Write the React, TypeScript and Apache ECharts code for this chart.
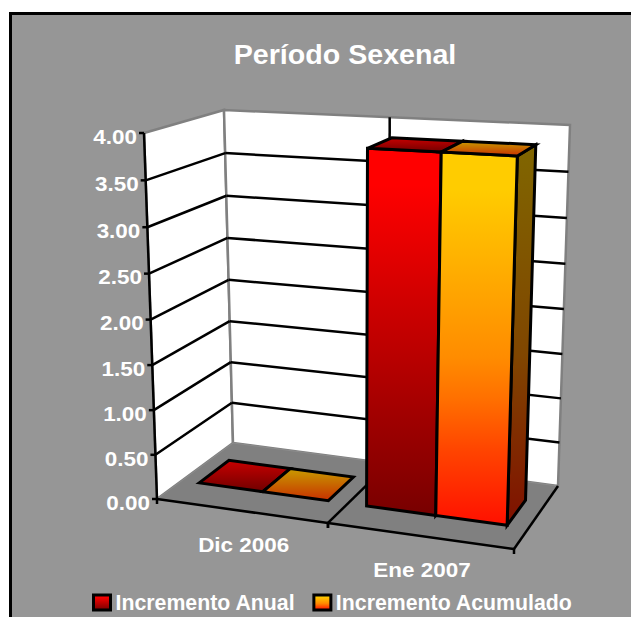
import React, { useEffect, useRef } from "react";
import * as echarts from "echarts";

const titleText = "Período Sexenal";
const categories = ["Dic 2006", "Ene 2007"];
const tickValues = [0, 0.5, 1, 1.5, 2, 2.5, 3, 3.5, 4];
const anualValues = [0, 3.86];
const acumuladoValues = [0, 3.86];

const FONT = '"Liberation Sans", Arial, sans-serif';
const CORNERS = {
  flb: [157, 499], frb: [514, 549], blb: [233, 443], brb: [558, 486],
  flt: [144, 133], frt: [526, 152], blt: [224, 110], brt: [570, 125],
};
const DEPTH_FRONT = 0.33;
const DEPTH_BACK = 0.73;

const warp = (x: number, k: number) => (x <= 0 ? 0 : x / (x + k * (1 - x)));
const mix = (a: number[], b: number[], t: number) => [a[0] + (b[0] - a[0]) * t, a[1] + (b[1] - a[1]) * t];

function project(u: number, v: number, d: number) {
  const uu = warp(u, 1.088);
  const vv = warp(v, 1.04);
  const c = CORNERS;
  const front = mix(mix(c.flb, c.frb, uu), mix(c.flt, c.frt, uu), vv);
  const back = mix(mix(c.blb, c.brb, uu), mix(c.blt, c.brt, uu), vv);
  return mix(front, back, d);
}

const vGrad = (stops: [number, string][]) =>
  new echarts.graphic.LinearGradient(0, 0, 0, 1, stops.map(([offset, color]) => ({ offset, color })));

const redFront: [number, string][] = [[0, "#ff0000"], [0.1, "#ff0000"], [1, "#780000"]];
const orangeFront: [number, string][] = [[0, "#ffcc00"], [0.1, "#ffcc00"], [0.55, "#ff8c00"], [0.66, "#ff7000"], [0.8, "#ff4400"], [1, "#ff1000"]];
const orangeSide: [number, string][] = [[0, "#806600"], [0.55, "#804600"], [1, "#801000"]];
const redTop: [number, string][] = [[0, "#c80000"], [1, "#700000"]];
const orangeTop: [number, string][] = [[0, "#c89c00"], [1, "#c83000"]];

const poly = (points: number[][], fill: any, stroke = "#000", lineWidth = 3) => ({
  type: "polygon",
  shape: { points },
  style: { fill, stroke, lineWidth, lineJoin: "miter" },
});
const seg = (a: number[], b: number[], stroke = "#000", lineWidth = 2.5) => ({
  type: "line",
  shape: { x1: a[0], y1: a[1], x2: b[0], y2: b[1] },
  style: { stroke, lineWidth },
});
const label = (text: string, x: number, y: number, align: string) => ({
  type: "text",
  x,
  y,
  scaleX: 1.07,
  style: { text, fill: "#fff", font: `bold 21px ${FONT}`, align, verticalAlign: "middle" },
});

const normV = (params: any, api: any, value: number) => {
  const r = params.coordSys;
  return (r.y + r.height - api.coord([0, value])[1]) / r.height;
};
const normU = (params: any, api: any, i: number, f: number) => {
  const r = params.coordSys;
  const band = api.size([1, 0])[0];
  return (api.coord([i, 0])[0] - band / 2 + band * f - r.x) / r.width;
};

const renderWalls = () => ({
  type: "group",
  children: [
    poly([project(0, 0, 0), project(0, 1, 0), project(0, 1, 1), project(0, 0, 1)], "#fff", "#808080", 2.5),
    poly([project(0, 0, 1), project(0, 1, 1), project(1, 1, 1), project(1, 0, 1)], "#fff", "#808080", 2.5),
    poly([project(0, 0, 0), project(0, 0, 1), project(1, 0, 1), project(1, 0, 0)], "#808080", "#8c8c8c", 1),
  ],
});

const renderValueTick = (params: any, api: any) => {
  const value = api.value(1);
  const v = normV(params, api, value);
  const a = project(0, v, 0);
  const b = project(0, v, 1);
  const c = project(1, v, 1);
  const children: any[] = [];
  if (value > 0 && value < 4) {
    children.push(seg(a, b), seg(b, c));
  }
  children.push(seg([a[0] - 5, a[1]], [a[0], a[1]]));
  children.push(label(value.toFixed(2), a[0] - 7, a[1] + 3.5, "right"));
  return { type: "group", children };
};

const renderFrontAxis = () => {
  const a = project(0, 0, 0);
  const b = project(0, 1, 0);
  return { type: "group", children: [seg(a, b)] };
};

const renderCategory = (params: any, api: any) => {
  const i = api.value(0);
  const uL = normU(params, api, i, 0);
  const uM = normU(params, api, i, 0.5);
  const uR = normU(params, api, i, 1);
  const fl = project(uL, 0, 0);
  const fr = project(uR, 0, 0);
  const br = project(uR, 0, 1);
  const tr = project(uR, 1, 1);
  const mid = project(uM, 0, 0);
  const children: any[] = [
    seg(fl, fr),
    seg(fr, [fr[0], fr[1] + 5]),
    seg(fl, [fl[0], fl[1] + 5]),
    seg(fr, br),
  ];
  if (i < categories.length - 1) children.push(seg(br, tr));
  children.push(label(categories[i], mid[0] + 3, mid[1] + 34.5, "center"));
  return { type: "group", children };
};

const renderBar = (f0: number, f1: number, front: any, side: any, top: any) => (params: any, api: any) => {
  const i = api.value(0);
  const v = normV(params, api, api.value(1));
  const uL = normU(params, api, i, f0);
  const uR = normU(params, api, i, f1);
  const p = (u: number, vv: number, d: number) => project(u, vv, d);
  const children: any[] = [];
  if (v > 0) {
    children.push(poly([p(uR, 0, DEPTH_FRONT), p(uR, v, DEPTH_FRONT), p(uR, v, DEPTH_BACK), p(uR, 0, DEPTH_BACK)], side));
    children.push(poly([p(uL, 0, DEPTH_FRONT), p(uL, v, DEPTH_FRONT), p(uR, v, DEPTH_FRONT), p(uR, 0, DEPTH_FRONT)], front));
  }
  children.push(poly([p(uL, v, DEPTH_FRONT), p(uL, v, DEPTH_BACK), p(uR, v, DEPTH_BACK), p(uR, v, DEPTH_FRONT)], top));
  return { type: "group", children };
};

export default function App() {
  const ref = useRef<HTMLDivElement>(null);
  useEffect(() => {
    const chart = echarts.init(ref.current!, undefined, { renderer: "svg" });
    const anualName = "Incremento Anual";
    const acumName = "Incremento Acumulado";
    chart.setOption({
      animation: false,
      backgroundColor: "#fff",
      grid: { left: 100, top: 100, width: 400, height: 400 },
      xAxis: { type: "category", data: categories, show: false },
      yAxis: { type: "value", min: 0, max: 4, interval: 0.5, show: false },
      legend: {
        left: 87,
        top: 587,
        itemGap: 17,
        itemWidth: 17,
        itemHeight: 15,
        padding: 5,
        selectedMode: false,
        textStyle: { color: "#fff", fontWeight: "bold", fontSize: 21.3, fontFamily: FONT },
        data: [
          { name: anualName, icon: "rect", itemStyle: { color: vGrad(redFront), borderColor: "#000", borderWidth: 3 } },
          { name: acumName, icon: "rect", itemStyle: { color: vGrad(orangeFront), borderColor: "#000", borderWidth: 3 } },
        ],
      },
      graphic: [
        { type: "rect", z: 0, shape: { x: 10.5, y: 13.5, width: 800, height: 800 }, style: { fill: "#969696", stroke: "#000", lineWidth: 3 } },
        {
          type: "text", z: 5, x: 345, y: 55, scaleX: 1.06,
          style: { text: titleText, fill: "#fff", font: `bold 27px ${FONT}`, align: "center", verticalAlign: "middle" },
        },
      ],
      series: [
        { type: "custom", name: "walls", clip: false, data: [[0, 0]], renderItem: renderWalls },
        { type: "custom", name: "leftAxis", clip: false, data: [[0, 0]], renderItem: renderFrontAxis },
        { type: "custom", name: "valueAxis", clip: false, data: tickValues.map((t) => [0, t]), renderItem: renderValueTick },
        { type: "custom", name: "categoryAxis", clip: false, data: categories.map((_, i) => [i, 0]), renderItem: renderCategory },
        {
          type: "custom", name: anualName, clip: false,
          data: anualValues.map((y, i) => [i, y]),
          renderItem: renderBar(0.107, 0.497, vGrad(redFront), vGrad(redFront), vGrad(redTop)),
        },
        {
          type: "custom", name: acumName, clip: false,
          data: acumuladoValues.map((y, i) => [i, y]),
          renderItem: renderBar(0.497, 0.886, vGrad(orangeFront), vGrad(orangeSide), vGrad(orangeTop)),
        },
      ],
    });
    return () => chart.dispose();
  }, []);
  return <div ref={ref} style={{ position: "absolute", left: 0, top: 0, width: 631, height: 617 }} />;
}
